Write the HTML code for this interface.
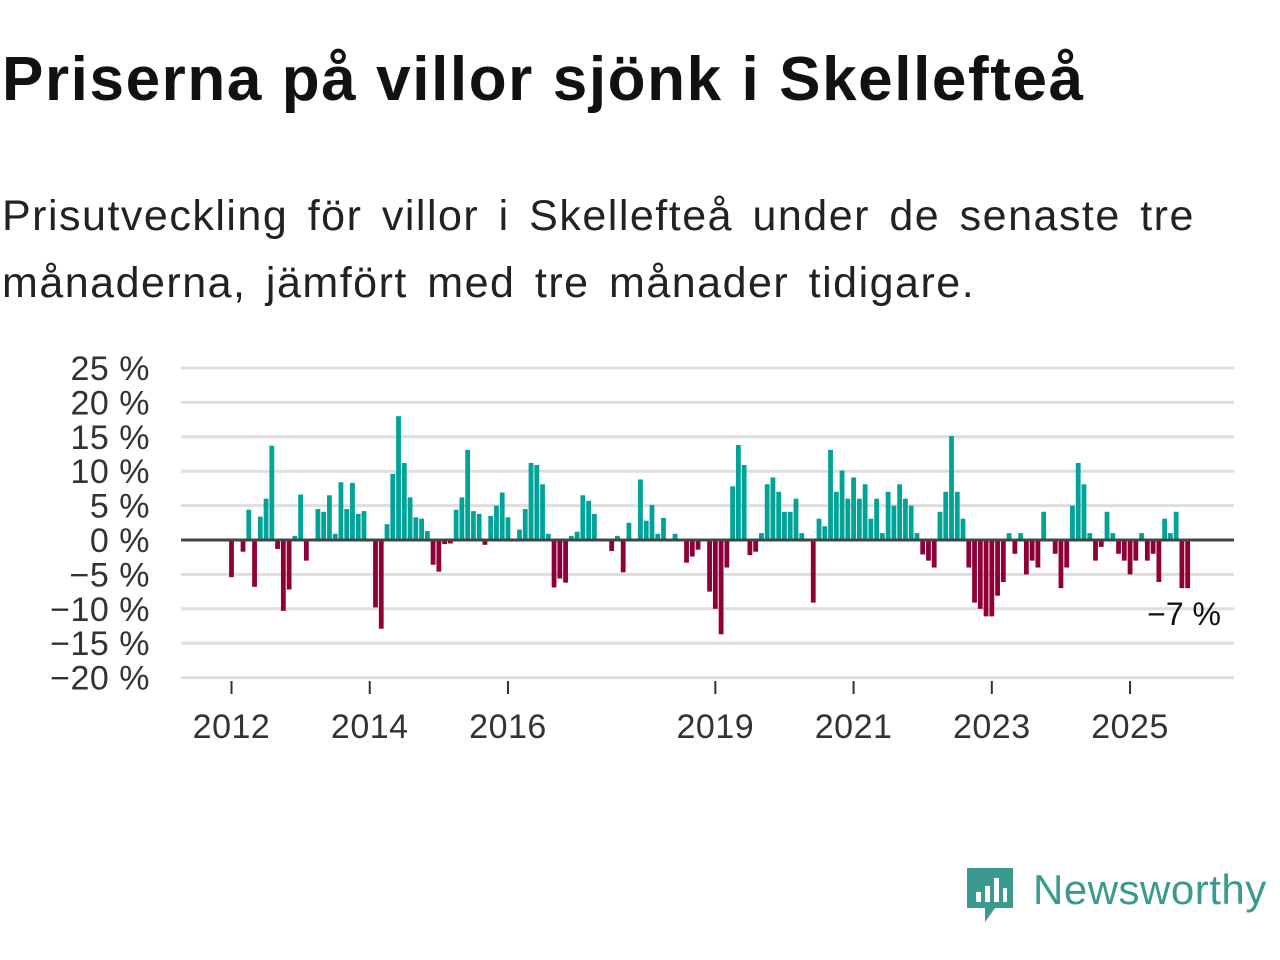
<!DOCTYPE html>
<html><head><meta charset="utf-8"><style>
body{margin:0;background:#fff;width:1280px;height:960px;overflow:hidden;font-family:"Liberation Sans",sans-serif}
h1{position:absolute;left:2px;top:44px;margin:0;font-size:62px;font-weight:bold;color:#111;letter-spacing:1.6px}
p{position:absolute;left:2px;top:183px;margin:0;font-size:43px;line-height:67px;color:#222;width:1262px;letter-spacing:1.5px;word-spacing:6px}
</style></head><body>
<h1>Priserna på villor sjönk i Skellefteå</h1>
<p>Prisutveckling för villor i Skellefteå under de senaste tre månaderna, jämfört med tre månader tidigare.</p>
<svg id="chart" width="1280" height="960" style="position:absolute;left:0;top:0"></svg>
<div style="position:absolute;left:965px;top:866px;width:315px;height:60px">
<svg width="52" height="60" style="position:absolute;left:0;top:0"><path d="M2 2h46v40l-18 0-10 14v-14H2z" fill="#3a9a90"/><rect x="11" y="26" width="5" height="10" fill="#fff"/><rect x="20" y="20" width="5" height="16" fill="#fff"/><rect x="29" y="12" width="5" height="24" fill="#fff"/><rect x="38" y="22" width="4" height="14" fill="#fff"/></svg>
<span style="position:absolute;left:68px;top:0px;font-size:42px;color:#3a9a90;letter-spacing:0.5px">Newsworthy</span>
</div>
<script>
const values=[-5.4,0,-1.7,4.4,-6.8,3.4,6.0,13.7,-1.3,-10.3,-7.2,0.6,6.6,-3.0,0,4.5,4.1,6.5,0.9,8.4,4.5,8.3,3.8,4.2,0,-9.8,-12.9,2.3,9.6,18.0,11.2,6.2,3.3,3.1,1.3,-3.6,-4.6,-0.6,-0.5,4.4,6.2,13.1,4.2,3.8,-0.7,3.5,5.0,6.9,3.3,0,1.5,4.5,11.2,10.9,8.1,0.9,-6.9,-5.6,-6.2,0.6,1.2,6.5,5.7,3.8,0,0,-1.6,0.6,-4.7,2.5,0,8.8,2.8,5.1,0.9,3.2,0,0.9,0,-3.3,-2.4,-1.4,0,-7.5,-10.0,-13.7,-4.0,7.8,13.8,10.9,-2.2,-1.7,1.0,8.1,9.1,7.0,4.1,4.1,6.0,1.0,0,-9.1,3.1,2.0,13.1,7.0,10.1,6.0,9.1,6.0,8.1,3.1,6.0,1.0,7.0,5.0,8.1,6.0,5.0,1.0,-2.1,-3.0,-4.0,4.1,7.0,15.1,7.0,3.1,-4.0,-9.1,-10.0,-11.1,-11.1,-8.1,-6.1,1.0,-2.0,1.0,-5.0,-3.0,-4.0,4.1,0,-2.0,-7.0,-4.0,5.0,11.2,8.1,1.0,-3.0,-1.0,4.1,1.0,-2.0,-3.0,-5.0,-3.0,1.0,-3.0,-2.0,-6.1,3.1,1.0,4.1,-7.0,-7.0];
const yTicks=[25,20,15,10,5,0,-5,-10,-15,-20];
const yTickLabels=["25 %","20 %","15 %","10 %","5 %","0 %","−5 %","−10 %","−15 %","−20 %"];
const xTickYears=[2012,2014,2016,2019,2021,2023,2025];
const lastLabel="−7 %";
const svg=document.getElementById('chart');const NS='http://www.w3.org/2000/svg';
const y=v=>540-v*6.88;
const x=i=>231.5+i*5.76;
function mk(t,a,txt){const e=document.createElementNS(NS,t);for(const k in a)e.setAttribute(k,a[k]);if(txt!=null)e.textContent=txt;svg.appendChild(e);return e;}
yTicks.forEach((v,k)=>{
 if(v!==0){const g=mk('line',{x1:181,x2:1234,y1:y(v),y2:y(v),stroke:'#dedede','stroke-width':3});
 
 }
 const t=mk('text',{x:150,y:y(v)+12,'text-anchor':'end','font-size':34,fill:'#333','letter-spacing':0.5},yTickLabels[k]);
 
 
});
xTickYears.forEach(yr=>{
 const xx=x((yr-2012)*12);
 const l=mk('line',{x1:xx,x2:xx,y1:681,y2:694,stroke:'#333','stroke-width':2});
 
 
 const t=mk('text',{x:xx,y:738,'text-anchor':'middle','font-size':34,fill:'#333','letter-spacing':0.5},yr);
 
 
});
values.forEach((v,i)=>{
 if(v===0)return;
 const r=mk('rect',{x:x(i)-2.4,width:4.8,y:Math.min(y(v),y(0)),height:Math.abs(y(v)-y(0)),fill:v>0?'#00a398':'#900038'});
 
 
});
const z=mk('line',{x1:181,x2:1234,y1:y(0),y2:y(0),stroke:'#444','stroke-width':3});


const lab=mk('text',{x:1221,y:625,'text-anchor':'end','font-size':32,fill:'#111'},lastLabel);


</script>
</body></html>
